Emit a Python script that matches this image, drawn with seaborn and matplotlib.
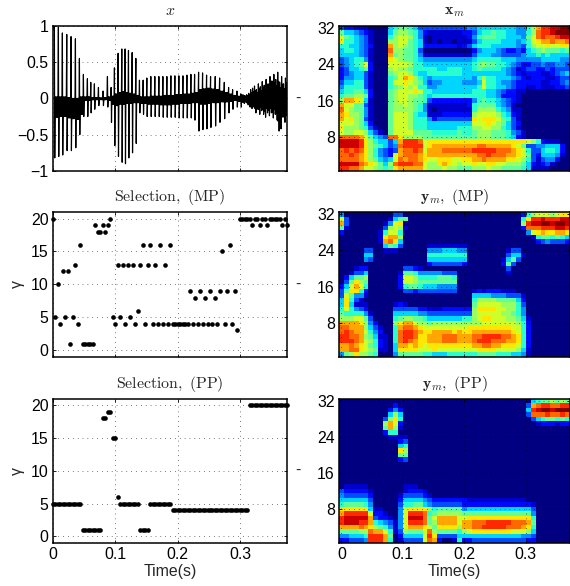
import numpy as np
import matplotlib
matplotlib.use("Agg")
import matplotlib.pyplot as plt
import seaborn as sns

sns.set_style("white")
plt.rcParams['font.family'] = ['Liberation Sans', 'DejaVu Sans']
plt.rcParams['mathtext.fontset'] = 'cm'
plt.rcParams['axes.unicode_minus'] = True

# ---- waveform: pitch pulses
pulse_t = [.0027,.0091,.0155,.0225,.0294,.0364,.0428,.0492,.0556,.0610,.0668,.0733,.0807,.0877,.0936,.0989,
           .1048,.1107,.1160,.1214,.1273,.1332,.1390,.1449,.1508,.1572,.1636,.1701,.1765,.1829,.1893,.1957,
           .2021,.2086,.2150,.2214,.2273,.2337,.2401,.2465,.2529,.2604,.2674,.2749,.2818,.2882,.2952,.3016]
pulse_hi = [1.0,.98,.90,.88,.85,.82,.55,.33,.27,.22,.20,.15,.10,.30,.15,.42,
            .62,.68,.68,.66,.63,.55,.25,.25,.28,.30,.30,.30,.30,.30,.31,.31,
            .31,.31,.32,.33,.33,.36,.35,.32,.30,.30,.28,.22,.15,.12,.10,.06]
pulse_lo = [-.82,-.80,-.78,-.72,-.72,-.68,-.50,-.25,-.25,-.20,-.15,-.10,-.10,-.12,-.33,-.65,
            -.80,-.88,-.90,-.82,-.75,-.62,-.20,-.22,-.25,-.25,-.25,-.25,-.26,-.26,-.26,-.26,
            -.27,-.27,-.27,-.27,-.30,-.45,-.43,-.42,-.40,-.38,-.33,-.28,-.20,-.15,-.12,-.12]
core_hi = [.02,.02,.02,.01,.00,.00,.02,.02,.02,.01,.01,.01,.01,.02,.03,.06,
           .08,.09,.08,.07,.06,.04,.02,.02,.02,.03,.03,.03,.04,.04,.04,.05,
           .05,.06,.06,.07,.08,.12,.13,.14,.13,.12,.10,.08,.06,.04,.03,.02]
core_lo = [-.26,-.25,-.25,-.27,-.28,-.29,-.22,-.03,-.03,-.02,-.02,-.02,-.02,-.03,-.08,-.10,
           -.08,-.08,-.07,-.07,-.06,-.06,-.07,-.07,-.08,-.08,-.08,-.09,-.09,-.09,-.08,-.08,
           -.07,-.07,-.07,-.06,-.06,-.08,-.08,-.07,-.06,-.06,-.05,-.05,-.04,-.03,-.04,-.05]
# ---- waveform: noisy tail envelope
noise_t = [.3047,.3078,.3109,.3140,.3171,.3202,.3233,.3264,.3295,.3326,.3357,.3388,.3419,.3450,.3481,.3512,
           .3543,.3574,.3605,.3636,.3667,.3698,.3729,.3750,.3765]
noise_hi = [.05,.04,.05,.07,.12,.14,.17,.12,.20,.16,.23,.18,.26,.20,.30,.24,.33,.26,.36,.22,.30,.20,.28,.22,.28]
noise_lo = [-.07,-.06,-.09,-.12,-.14,-.12,-.20,-.15,-.22,-.17,-.22,-.26,-.20,-.24,-.20,-.27,-.22,-.30,-.45,-.42,-.26,-.33,-.24,-.28,-.20]

# ---- selected atom index, one value per 4 ms frame
frame_step = 0.004
sel_mp = [20,5,10,4,12,5,12,1,5,13,4,16,1,1,1,1,1,19,18,18,19,18,19,20,5,4,13,5,13,4,13,5,13,4,6,13,16,4,13,16,
          4,13,4,16,4,13,4,16,4,4,4,4,4,4,4,9,4,8,4,9,4,8,4,9,4,8,4,9,15,4,9,16,4,9,3,
          20,20,20,20,20,19,20,20,19,20,20,19,20,20,20,20,20,19,20,19]
sel_pp = [5]*12 + [1]*8 + [18]*2 + [19]*2 + [15]*2 + [6] + [5]*8 + [1]*4 + [5]*9 + [4]*31 + [20]*16

# ---- spectrogram levels (0-F of the colour scale), rows 32 (top) to 1, 47 frames
xm_rows = [
"32211 10000 56776 53333 33333 34455 55555 54468 BDDEE FF",
"75543 21000 57887 64211 11111 22356 67665 54468 CDDEF FF",
"97654 31000 68998 64101 11111 12467 77665 55479 CDCCD EE",
"A6654 31000 88997 65101 01101 11356 66655 54569 ABBCB BC",
"66554 32000 B8987 65222 22221 23566 65555 54368 99A99 AA",
"56654 31000 C8877 63000 00000 00245 55432 23256 78777 67",
"55554 31000 B7877 64111 11111 11355 54433 33455 65655 55",
"34566 41000 A9877 65444 44444 44566 66655 54444 45555 44",
"34567 92000 99998 66555 55555 55678 77665 43223 34334 43",
"23556 72000 89887 66666 55666 55676 66654 31233 22323 33",
"23455 31000 78998 65566 66666 55555 55554 32122 21123 45",
"24455 31000 679BA 86545 55555 55468 66555 43212 22112 33",
"35566 31000 699A9 87534 45555 44459 66544 32222 21122 34",
"46666 31000 67898 96644 55555 55569 66554 32211 21112 23",
"56677 52000 78999 A9665 55555 55666 55432 21100 00000 00",
"67788 72000 78998 87656 66666 66666 55422 21000 00000 00",
"8BBA9 51000 78998 77632 22222 22467 66543 21000 00000 00",
"B9977 31000 78898 76411 11111 12677 77543 10000 00000 00",
"C9877 41000 78888 76410 11111 11688 88654 11000 00000 00",
"BA887 41000 79998 65511 12222 22899 99865 21000 00000 00",
"B9A87 31000 79998 66642 33333 33A9A AA976 31000 00000 00",
"99987 52000 79998 66655 55555 55999 A9875 32000 00000 00",
"A8887 63100 79998 66655 55556 66889 98865 31000 00000 00",
"98899 85310 79999 77776 66667 66788 87776 43100 00000 00",
"CCCCB 97543 CCA88 88777 77777 77788 87776 52100 00000 00",
"EEEED A8655 35BDD DC9AA AAAAA AAAAA AAAAA AAA98 62111 00",
"EEEED A8765 34CDD DD9AB BBBBB BBBCC BBBBB A9733 44555 20",
"CDCDC A8643 23BCC DC9BB BCCCC CCDDD DDCCC BA963 35665 20",
"CCDCB A8643 29BCC CBABB BBBBB BBBCC DCCCB BA973 25554 10",
"CCCCB A8754 59CBC CBA99 AAA99 AABBC BBBBA A9863 13442 00",
"EEEEC BA975 8CDDD CC988 ABA98 99A99 AA998 88752 12310 00",
"DDCCB 99876 7ABBB BB988 89887 77888 98877 77651 11100 00",
]
ym_mp_rows = [
"40000 00000 03300 00000 00000 00000 00000 00268 99989 AA",
"93000 00000 15770 00000 00000 00000 00000 006AD DEDDD EE",
"B3000 00001 49A00 00000 00000 00000 00000 008DE EFFEF FE",
"71000 00003 89810 00000 00000 00000 00000 002CC CDDDE ED",
"20000 00016 99600 00000 00000 00000 00000 00049 ABAAB BA",
"00000 0001A BB800 00000 00000 00000 00000 00001 67767 65",
"00000 0001B CA500 00000 00000 00000 00000 00000 23433 32",
"00000 00005 76300 00011 11111 10000 00000 00000 00000 00",
"00000 33001 11000 00044 45554 40000 00001 33000 00000 00",
"00000 55000 00000 00066 66666 60000 00003 55100 00000 00",
"00000 43000 00000 00055 55555 50000 00015 73000 00000 00",
"00000 00000 00000 00023 33333 20000 00027 30000 00000 00",
"00012 20000 00033 21000 00000 00000 00003 00000 00000 00",
"00133 50000 00177 64444 43330 00000 00001 00000 00000 00",
"02577 80000 00299 86666 77760 00000 00000 00000 00000 00",
"037A8 70000 00299 87777 77770 00000 00000 00000 00000 00",
"259B9 60000 00267 76555 44440 00000 00000 00000 00000 00",
"37AA6 20000 00033 23333 33330 00121 22211 10000 00000 00",
"39744 10000 00000 00000 00000 00555 54443 33100 00000 00",
"5A631 00000 00000 00000 00000 00688 88777 75200 00000 00",
"5A511 10000 01210 00000 00000 00799 99988 86300 00000 00",
"69643 20000 03333 32211 12222 228AA AA998 86400 00000 00",
"76666 41000 05555 54433 33333 33899 99988 76400 00000 00",
"88899 73000 06788 77655 55555 6689A A9998 87510 00000 00",
"BBBBA 84200 08ABB 98878 88888 88889 99999 98620 00000 00",
"CCBBB 85310 06BCC BA999 99999 9AAAA AAAAA 99620 00000 00",
"CDCBB 96420 06CDD CBAAB BBBAB AABBB BBBBB A9620 00000 00",
"DDCCB 87511 06CDD CAABB BCCCB BBCCD DDDCC BA620 00000 00",
"DDDCB 98621 06CDC BAABB BCCCB BBCDD DCCCB BA620 00000 00",
"BBCBA 97621 05BBA BA9AA AAAAA AABBC CBBAA A9620 00000 00",
"BBCCA 98711 05AAA A999A 99999 999AA AA999 98510 00000 00",
"478A8 87600 04777 77665 55666 66677 77666 55410 00000 00",
]
ym_pp_rows = [
"00000 00000 00000 00000 00000 00000 00000 00005 67787 87",
"00000 00000 02000 00000 00000 00000 00000 0003B CDDCC DD",
"00000 00000 24200 00000 00000 00000 00000 0005D EFFEF FF",
"00000 00000 58500 00000 00000 00000 00000 0003C CCDCC DC",
"00000 00003 8A600 00000 00000 00000 00000 00003 56776 76",
"00000 00008 B9200 00000 00000 00000 00000 00000 12221 22",
"00000 00007 B8100 00000 00000 00000 00000 00000 00000 00",
"00000 00002 66000 00000 00000 00000 00000 00000 00000 00",
"00000 00000 11110 00000 00000 00000 00000 00000 00000 00",
"00000 00000 00230 00000 00000 00000 00000 00000 00000 00",
"00000 00000 00560 00000 00000 00000 00000 00000 00000 00",
"00000 00000 00A80 00000 00000 00000 00000 00000 00000 00",
"00000 00000 00770 00000 00000 00000 00000 00000 00000 00",
"00000 00000 00230 00000 00000 00000 00000 00000 00000 00",
"00000 00000 00000 00000 00000 00000 00000 00000 00000 00",
"00000 00000 00000 00000 00000 00000 00000 00000 00000 00",
"00000 00000 00000 00000 00000 00000 00000 00000 00000 00",
"00000 00000 00000 00000 00000 00000 00000 00000 00000 00",
"00000 00000 00000 00000 00000 00000 00000 00000 00000 00",
"01111 10000 00011 10000 00000 00000 00000 00000 00000 00",
"32222 21000 00012 22100 00000 00000 00000 00000 00000 00",
"43333 32000 00133 33210 00000 00000 00000 00000 00000 00",
"55555 53000 00255 55432 22222 21111 11111 11100 00000 00",
"67777 64000 00366 77543 33333 22222 22222 22221 00000 00",
"AAAAA A5110 0049A AAA86 77777 45555 55555 55553 00000 00",
"BDDDD D9221 0049D DDC67 88888 77777 77777 77774 00000 00",
"DEEEE EB322 1049E EEC79 BBBB9 9AAAA AAAAA AAAA6 00000 00",
"DEEED DB654 3149D DDC78 BBBB9 BBCCC DDDDD CCCB7 00000 00",
"BBBBC BA876 4149B BBA97 AAAA8 BBCCD DDDDC CCBA6 00000 00",
"77778 8CBB9 61387 779C8 77776 89AAA AAAAA 99985 00000 00",
"44555 6DDDB 70255 559DA 33335 55555 55555 55443 00000 00",
"22333 4DDDB 60133 339CB 20016 22333 33333 33322 00000 00",
]

wave_titles = [r"$x$", r"$\mathrm{Selection,\ (MP)}$", r"$\mathrm{Selection,\ (PP)}$"]
spec_titles = [r"$\mathbf{x}_m$", r"$\mathbf{y}_m,\ \mathrm{(MP)}$", r"$\mathbf{y}_m,\ \mathrm{(PP)}$"]
time_ticks = [0, 0.1, 0.2, 0.3]
time_labels = ["0", "0.1", "0.2", "0.3"]
band_ticks = [8, 16, 24, 32]
wave_ticks = [-1, -0.5, 0, 0.5, 1]
wave_labels = ["\u22121", "\u22120.5", "0", "0.5", "1"]
sel_ticks = [0, 5, 10, 15, 20]


def levels(rows):
    return np.array([[int(c, 16) / 15 for c in r.replace(" ", "")] for r in rows])


W, H = 570, 586
fig = plt.figure(figsize=(W / 100, H / 100), dpi=100)


def box(x0, y0, x1, y1):
    return fig.add_axes([x0 / W, 1 - y1 / H, (x1 - x0) / W, (y1 - y0) / H])


tops = [(25.7, 171), (212, 356.7), (398.7, 543)]
FS = 11.4
dot_grid = dict(color="k", linewidth=0.5, linestyle=(0, (1, 6)))


def finish(ax):
    for s in ax.spines.values():
        s.set_visible(True)
        s.set_color("k")
        s.set_linewidth(1.1)
    ax.tick_params(axis="both", which="major", direction="in", length=2.5, width=0.6,
                   labelsize=FS, pad=3, top=True, right=True, bottom=True, left=True, colors="k")
    ax.grid(True, **dot_grid)
    ax.set_axisbelow(False)


# ---- waveform vertices
wave_x, wave_y = [], []
for i, t in enumerate(pulse_t):
    nxt = pulse_t[i + 1] if i + 1 < len(pulse_t) else noise_t[0]
    wave_x += [t, t + 0.0006]
    wave_y += [pulse_hi[i], pulse_lo[i]]
    for k in range(1, 7):
        wave_x.append(t + 0.0006 + (nxt - t - 0.0006) * k / 7)
        wave_y.append(core_hi[i] if k % 2 else core_lo[i])
for i, t in enumerate(noise_t):
    for k, (v, f) in enumerate([(noise_hi[i], 1), (noise_lo[i], 0.7), (noise_hi[i], 0.65), (noise_lo[i], 1)]):
        wave_x.append(t + k * 0.00075)
        wave_y.append(v * f)

# ---- left column
ax = box(52.7, tops[0][0], 287.4, tops[0][1])
sns.lineplot(x=wave_x, y=wave_y, sort=False, estimator=None, color="k", linewidth=0.85, ax=ax)
ax.set_ylim(-1, 1)
ax.set_yticks(wave_ticks)
ax.set_yticklabels(wave_labels)

frames = np.arange(95) * frame_step
for row, sel in [(1, sel_mp), (2, sel_pp)]:
    axs = box(52.7, tops[row][0], 287.4, tops[row][1])
    sns.scatterplot(x=frames, y=sel, color="k", s=11, linewidth=0, clip_on=False, zorder=5, ax=axs)
    axs.set_ylim(-1, 21)
    axs.set_yticks(sel_ticks)
    axs.set_yticklabels([str(v) for v in sel_ticks])
    axs.set_ylabel("\u03b3", fontsize=FS, labelpad=4)
    if row == 1:
        ax_mp = axs
    else:
        ax_pp = axs

for row, a in enumerate([ax, ax_mp, ax_pp]):
    a.set_xlim(0, 0.376)
    a.set_xticks(time_ticks)
    a.set_xticklabels(time_labels if row == 2 else [])
    a.set_title(wave_titles[row], fontsize=11.4, pad=8)
    finish(a)
ax_pp.set_xlabel("Time(s)", fontsize=FS, labelpad=1)

# ---- right column
for row, rows in enumerate([xm_rows, ym_mp_rows, ym_pp_rows]):
    a = box(339, tops[row][0], 570, tops[row][1])
    sns.heatmap(levels(rows), vmin=0, vmax=1, cmap="jet", cbar=False, ax=a,
                xticklabels=False, yticklabels=False)
    a.set_xticks([(t + 0.004) / 0.008 for t in time_ticks])
    a.set_xticklabels(time_labels if row == 2 else [], rotation=0)
    a.set_yticks([32 - b + 0.5 for b in band_ticks])
    a.set_yticklabels([str(b) for b in band_ticks], rotation=0)
    a.set_title(spec_titles[row], fontsize=11.4, pad=8)
    finish(a)
    if row == 2:
        a.set_xlabel("Time(s)", fontsize=FS, labelpad=1)
    fig.text(297.5 / W, 1 - (tops[row][0] + tops[row][1]) / 2 / H, "-", fontsize=FS,
             ha="center", va="center")

fig.savefig("out.png", dpi=100)
